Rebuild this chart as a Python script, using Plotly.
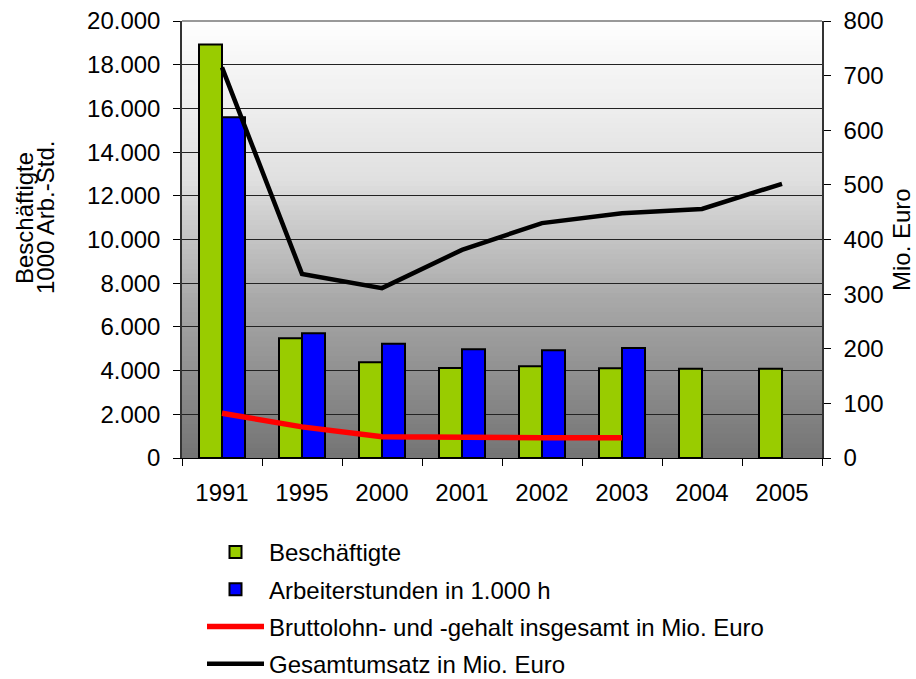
import plotly.graph_objects as go

years = ["1991", "1995", "2000", "2001", "2002", "2003", "2004", "2005"]
beschaeftigte = [18930, 5480, 4380, 4120, 4200, 4110, 4090, 4090]
arbeiterstunden = [15590, 5710, 5230, 4980, 4930, 5030, None, None]
bruttolohn = [82, 57, 39, 37, 37, 37, None, None]
gesamtumsatz = [715, 337, 311, 381, 430, 448, 456, 502]

left_ticks = list(range(0, 20001, 2000))
right_ticks = list(range(0, 801, 100))

FONT = "Liberation Sans, Arial, sans-serif"
FS = 24

fig = go.Figure()
fig.add_trace(go.Bar(x=years, y=beschaeftigte, name="Beschäftigte",
                     marker=dict(color="#99cc00", line=dict(color="black", width=2)),
                     legendgroup="a"))
fig.add_trace(go.Bar(x=years, y=arbeiterstunden, name="Arbeiterstunden in 1.000 h",
                     marker=dict(color="#0000ff", line=dict(color="black", width=2)),
                     legendgroup="b"))
fig.add_trace(go.Scatter(x=years, y=bruttolohn, name="Bruttolohn- und -gehalt insgesamt in Mio. Euro",
                         mode="lines", line=dict(color="#ff0000", width=5.5), yaxis="y2",
                         legendgroup="c"))
fig.add_trace(go.Scatter(x=years, y=gesamtumsatz, name="Gesamtumsatz in Mio. Euro",
                         mode="lines", line=dict(color="#000000", width=4.5), yaxis="y2",
                         legendgroup="d"))

# vertical gray gradient for plot background
stops = [(0.0, 254), (0.36, 224), (0.64, 168), (1.0, 116)]
def shade(f):
    for (f0, c0), (f1, c1) in zip(stops[:-1], stops[1:]):
        if f0 <= f <= f1:
            return c0 + (c1 - c0) * (f - f0) / (f1 - f0)
    return stops[-1][1]
N = 90
shapes = []
for i in range(N):
    f = (i + 0.5) / N
    c = int(round(shade(f)))
    shapes.append(dict(type="rect", xref="x domain", yref="y domain",
                       x0=0, x1=1, y0=1 - (i + 1) / N - 0.002, y1=1 - i / N,
                       fillcolor=f"rgb({c},{c},{c})", line=dict(width=0), layer="below"))
shapes.append(dict(type="line", xref="x domain", yref="y domain", x0=0, x1=1, y0=1, y1=1,
                   line=dict(color="#777777", width=1.5)))

annotations = [
    dict(text="Beschäftigte", textangle=-90, xref="paper", yref="paper",
         x=(24 - 182) / 640, y=(458 - 218) / 437, xanchor="center", yanchor="middle",
         showarrow=False, font=dict(family=FONT, size=FS)),
    dict(text="1000 Arb.-Std.", textangle=-90, xref="paper", yref="paper",
         x=(45 - 182) / 640, y=(458 - 218) / 437, xanchor="center", yanchor="middle",
         showarrow=False, font=dict(family=FONT, size=FS)),
    dict(text="Mio. Euro", textangle=-90, xref="paper", yref="paper",
         x=(901 - 182) / 640, y=(458 - 240) / 437, xanchor="center", yanchor="middle",
         showarrow=False, font=dict(family=FONT, size=FS)),
]

fig.update_layout(
    width=916, height=679,
    margin=dict(l=182, r=94, t=21, b=221, autoexpand=False),
    paper_bgcolor="white", plot_bgcolor="rgba(0,0,0,0)",
    separators=",.",
    font=dict(family=FONT, size=FS, color="black"),
    barmode="group", bargap=0.425, bargroupgap=0,
    shapes=shapes,
    annotations=annotations,
    showlegend=True,
    legend=dict(xref="container", yref="container", x=202 / 916, xanchor="left",
                y=1 - 530 / 679, yanchor="top",
                font=dict(family=FONT, size=FS), tracegroupgap=3,
                itemwidth=57, bgcolor="rgba(0,0,0,0)", traceorder="grouped"),
    xaxis=dict(type="category", tickson="boundaries", ticks="outside", ticklen=7,
               tickcolor="black", showline=True, linecolor="black", linewidth=1,
               showgrid=False, ticklabelstandoff=13, tickfont=dict(size=FS),
               automargin=False),
    yaxis=dict(range=[0, 20000], tickvals=left_ticks, tickformat=",d",
               ticks="outside", ticklen=7, tickcolor="black",
               showline=True, linecolor="#333333", linewidth=1.5,
               showgrid=True, gridcolor="#222222", gridwidth=1, zeroline=False,
               ticklabelstandoff=8, tickfont=dict(size=FS), automargin=False),
    yaxis2=dict(range=[0, 800], tickvals=right_ticks, overlaying="y", side="right",
                ticks="outside", ticklen=7, tickcolor="black",
                showline=True, linecolor="#333333", linewidth=1.5,
                showgrid=False, zeroline=False, ticklabelstandoff=8,
                tickfont=dict(size=FS), automargin=False),
)

fig.write_html("out.html", config={"displayModeBar": False},
               post_script="document.body.style.margin='0';document.body.style.overflow='hidden';")
